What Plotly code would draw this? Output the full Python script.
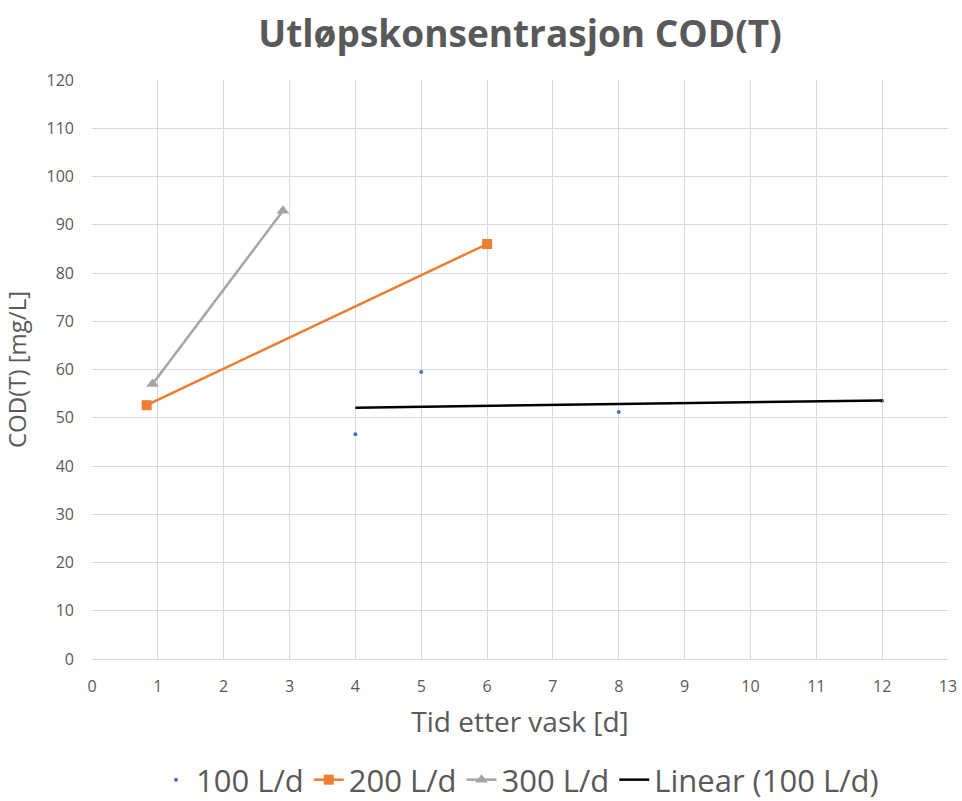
import numpy as np
import plotly.graph_objects as go

x100 = [4, 5, 8, 12]
y100 = [46.6, 59.5, 51.2, 53.5]
x200 = [0.83, 6]
y200 = [52.6, 86.0]
x300 = [0.92, 2.9]
y300 = [57.0, 92.9]

title = "Utløpskonsentrasjon COD(T)"
xtitle = "Tid etter vask [d]"
ytitle = "COD(T) [mg/L]"

slope, intercept = np.polyfit(x100, y100, 1)
xt = [min(x100), max(x100)]
yt = [slope * v + intercept for v in xt]

font = "Open Sans, sans-serif"
grey = "#595959"

fig = go.Figure()
fig.add_trace(go.Scatter(x=x100, y=y100, mode="markers", name="100 L/d",
                         marker=dict(color="#4472C4", size=4)))
fig.add_trace(go.Scatter(x=x200, y=y200, mode="lines+markers", name="200 L/d",
                         line=dict(color="#ED7D31", width=2.5),
                         marker=dict(symbol="square", size=10, color="#ED7D31")))
fig.add_trace(go.Scatter(x=x300, y=y300, mode="lines+markers", name="300 L/d",
                         line=dict(color="#A5A5A5", width=2.5),
                         marker=dict(symbol="triangle-up", size=11, color="#A5A5A5")))
fig.add_trace(go.Scatter(x=xt, y=yt, mode="lines", name="Linear (100 L/d)",
                         line=dict(color="black", width=2.5)))

fig.update_layout(
    width=962, height=801,
    paper_bgcolor="white", plot_bgcolor="white",
    margin=dict(l=92, r=14, t=80, b=142, autoexpand=False),
    title=dict(text="<b>" + title + "</b>", xref="paper", x=0.5, xanchor="center",
               yref="container", y=0.958, yanchor="middle",
               font=dict(family=font, size=37, color=grey)),
    font=dict(family=font, color=grey),
    xaxis=dict(range=[0, 13], dtick=1, showgrid=True, gridcolor="#d9d9d9", gridwidth=1,
               zeroline=False, showline=True, linecolor="#d9d9d9", ticks="",
               automargin=False, ticklabelstandoff=13,
               tickfont=dict(size=16, color=grey),
               title=dict(text=xtitle, font=dict(size=28, color=grey), standoff=16)),
    yaxis=dict(range=[0, 120], dtick=10, showgrid=True, gridcolor="#d9d9d9", gridwidth=1,
               zeroline=False, showline=False, ticks="", ticklabelstandoff=17,
               automargin=False,
               tickfont=dict(size=16, color=grey),
               title=dict(text=ytitle, font=dict(size=24, color=grey), standoff=14)),
    legend=dict(orientation="h", x=0.5, xanchor="center", y=-0.209, yanchor="middle",
                font=dict(size=31, color=grey), itemwidth=30, tracegroupgap=0),
)

fig.write_html("out.html")
